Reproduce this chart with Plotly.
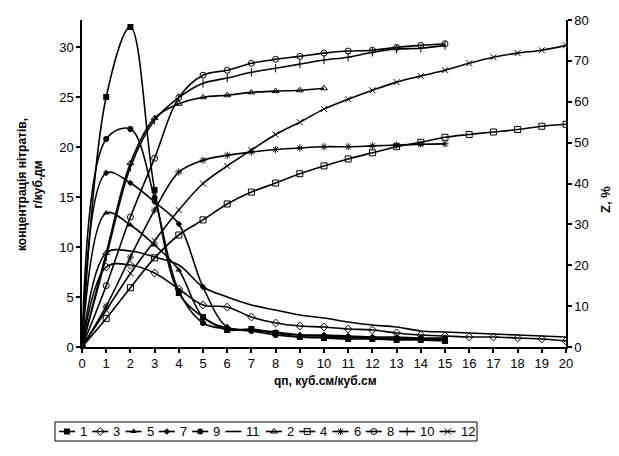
import plotly.graph_objects as go

# x values (qп, куб.см/куб.см)
x10 = list(range(11))
x15 = list(range(16))
x20 = list(range(21))

# concentration of nitrates, g/dm3 (left axis)
s1 = [0, 25, 32, 15.7, 5.4, 3.0, 1.7, 1.8, 1.4, 1.0, 0.9, 0.8, 0.8, 0.7, 0.7, 0.6]
s3 = [0, 8.0, 8.2, 7.4, 5.8, 4.2, 4.0, 3.0, 2.4, 2.1, 2.0, 1.8, 1.7, 1.4, 1.2, 1.1, 1.0, 1.0, 0.9, 0.8, 0.6]
s5 = [0, 13.4, 12.2, 10.2, 7.7, 3.0, 1.9, 1.7, 1.5, 1.2, 1.1, 1.0, 0.9, 0.9, 0.8, 0.8]
s7 = [0, 17.4, 16.4, 14.5, 12.3, 6.0, 2.0, 1.7, 1.4, 1.2, 1.2, 1.1, 1.0, 1.0, 0.9, 0.9]
s9 = [0, 20.8, 21.8, 14.9, 5.6, 2.4, 1.8, 1.6, 1.2, 1.0, 1.0, 0.9, 0.9, 0.8, 0.8, 0.8]
s11 = [0, 9.4, 9.6, 9.0, 8.2, 6.0, 5.0, 4.2, 3.7, 3.2, 2.9, 2.5, 2.2, 2.0, 1.6, 1.5, 1.4, 1.3, 1.2, 1.1, 1.0]

# Z, % (right axis)
s2 = [0, 23, 45, 56, 59.5, 61.1, 61.6, 62.3, 62.6, 62.8, 63.3]
s4 = [0, 7, 14.5, 21.8, 27.4, 31.1, 35, 37.9, 40.1, 42.4, 44.3, 46, 47.5, 49, 50.1, 51.3, 52, 52.6, 53.2, 54, 54.5]
s6 = [0, 10, 22, 33.5, 42.8, 45.7, 46.9, 47.7, 48.3, 48.7, 49, 49, 49.2, 49.4, 49.6, 49.7]
s8 = [0, 15, 31.8, 46.2, 61, 66.5, 67.7, 69.4, 70.4, 71.1, 71.9, 72.4, 72.6, 73.3, 73.8, 74.2]
s10 = [0, 22, 44, 55.5, 61, 64.5, 65.8, 67.2, 68.2, 69.2, 70.2, 70.9, 72.1, 72.9, 73.1, 73.8]
s12 = [0, 9, 18, 26, 33.5, 40, 44.3, 48.2, 52, 55, 58.2, 60.6, 62.8, 64.8, 66.3, 67.7, 69.4, 70.9, 71.9, 72.6, 73.8]

x_ticks = list(range(0, 21))
left_ticks = [0, 5, 10, 15, 20, 25, 30]
right_ticks = [0, 10, 20, 30, 40, 50, 60, 70, 80]

FONT = "Liberation Sans Narrow, Arial Narrow, Liberation Sans, Arial"
W, H = 619, 456
LW = 1.6

series = [
    ("1", x15, s1, "y", dict(symbol="square", size=6, color="black")),
    ("3", x20, s3, "y", dict(symbol="diamond-open", size=6, color="black", line=dict(width=1))),
    ("5", x15, s5, "y", dict(symbol="triangle-up", size=6, color="black")),
    ("7", x15, s7, "y", dict(symbol="diamond", size=5, color="black")),
    ("9", x15, s9, "y", dict(symbol="circle", size=6, color="black")),
    ("11", x20, s11, "y", None),
    ("2", x10, s2, "y2", dict(symbol="triangle-up-open", size=6, color="black", line=dict(width=1))),
    ("4", x20, s4, "y2", dict(symbol="square-open", size=6, color="black", line=dict(width=1))),
    ("6", x15, s6, "y2", dict(symbol="asterisk-open", size=6, color="black", line=dict(width=1))),
    ("8", x15, s8, "y2", dict(symbol="circle-open", size=6, color="black", line=dict(width=1))),
    ("10", x15, s10, "y2", dict(symbol="line-ns-open", size=6, color="black", line=dict(width=1))),
    ("12", x20, s12, "y2", dict(symbol="x-thin-open", size=6, color="black", line=dict(width=1))),
]

fig = go.Figure()
for name, xs, ys, ax, mk in series:
    kw = dict(mode="lines+markers", marker=mk) if mk else dict(mode="lines")
    fig.add_trace(go.Scatter(
        x=xs, y=ys, name=name, yaxis=ax, xaxis="x", showlegend=False,
        line=dict(color="black", width=LW, shape="spline", smoothing=1.0), **kw))

# ---- custom legend (one row in a bordered box) ----
LEG_X0, LEG_X1 = 55, 477
LEG_Y0, LEG_Y1 = 422, 441
seg, gap, digit_w = 16, 3, 7.2
natural = sum(seg + gap + digit_w * len(s[0]) for s in series)
inner = (LEG_X1 - LEG_X0) - 8
between = (inner - natural) / (len(series) - 1)
pos = LEG_X0 + 4
annotations = []
for name, xs, ys, ax, mk in series:
    fig.add_trace(go.Scatter(
        x=[pos, pos + seg], y=[0.5, 0.5], xaxis="x4", yaxis="y5", showlegend=False,
        mode="lines", line=dict(color="black", width=LW), hoverinfo="skip"))
    if mk:
        fig.add_trace(go.Scatter(
            x=[pos + seg / 2], y=[0.5], xaxis="x4", yaxis="y5", showlegend=False,
            mode="markers", marker=mk, hoverinfo="skip"))
    annotations.append(dict(text=name, xref="x4", yref="y5", x=pos + seg + gap, y=0.5,
                            xanchor="left", yanchor="middle", showarrow=False,
                            font=dict(family=FONT, size=13, color="black")))
    pos += seg + gap + digit_w * len(name) + between

axis_common = dict(showgrid=False, zeroline=False, showline=True, linecolor="black",
                   linewidth=1.5, ticks="outside", ticklen=4, tickwidth=1.5, tickcolor="black",
                   automargin=False,
                   tickfont=dict(family=FONT, size=13, color="black"))
cross = dict(showgrid=False, zeroline=False, showline=False, ticks="inside", ticklen=4,
             tickwidth=1.5, tickcolor="black", showticklabels=False, automargin=False)

xdom = [82 / W, 566 / W]
ydom = [1 - 347 / H, 1 - 20 / H]

fig.update_layout(
    width=W, height=H,
    margin=dict(l=0, r=0, t=0, b=0, autoexpand=False),
    paper_bgcolor="white", plot_bgcolor="white",
    font=dict(family=FONT, color="black"),
    showlegend=False,
    xaxis=dict(domain=xdom, range=[0, 20], tickvals=x_ticks, anchor="y", **axis_common),
    yaxis=dict(domain=ydom, range=[0, 32.7], tickvals=left_ticks, anchor="x", **axis_common),
    yaxis2=dict(range=[0, 80], tickvals=right_ticks, overlaying="y", side="right",
                anchor="x", **axis_common),
    xaxis3=dict(domain=xdom, range=[0, 20], tickvals=x_ticks, overlaying="x", anchor="y", **cross),
    yaxis3=dict(range=[0, 32.7], tickvals=left_ticks, overlaying="y", anchor="x", **cross),
    yaxis4=dict(range=[0, 80], tickvals=right_ticks, overlaying="y", side="right",
                anchor="x", **cross),
    xaxis4=dict(domain=[LEG_X0 / W, LEG_X1 / W], range=[LEG_X0, LEG_X1], anchor="y5",
                visible=False, fixedrange=True),
    yaxis5=dict(domain=[1 - LEG_Y1 / H, 1 - LEG_Y0 / H], range=[0, 1], anchor="x4",
                visible=False, fixedrange=True),
    shapes=[dict(type="rect", xref="paper", yref="paper",
                 x0=LEG_X0 / W, x1=LEG_X1 / W, y0=1 - LEG_Y1 / H, y1=1 - LEG_Y0 / H,
                 line=dict(color="black", width=1), fillcolor="rgba(0,0,0,0)")],
    annotations=annotations + [
        dict(text="<b>концентрація нітратів,<br>г/куб.дм</b>", xref="paper", yref="paper",
             x=30 / W, y=1 - 185 / H, xanchor="center", yanchor="middle", textangle=-90,
             showarrow=False, font=dict(family=FONT, size=12, color="black")),
        dict(text="<b>Z, %</b>", xref="paper", yref="paper", x=605 / W, y=1 - 200 / H,
             xanchor="center", yanchor="middle", textangle=-90, showarrow=False,
             font=dict(family=FONT, size=13, color="black")),
        dict(text="<b>qп, куб.см/куб.см</b>", xref="paper", yref="paper", x=325 / W,
             y=1 - 381 / H, xanchor="center", yanchor="middle", showarrow=False,
             font=dict(family=FONT, size=12, color="black")),
    ],
)

fig.write_html("out.html")
